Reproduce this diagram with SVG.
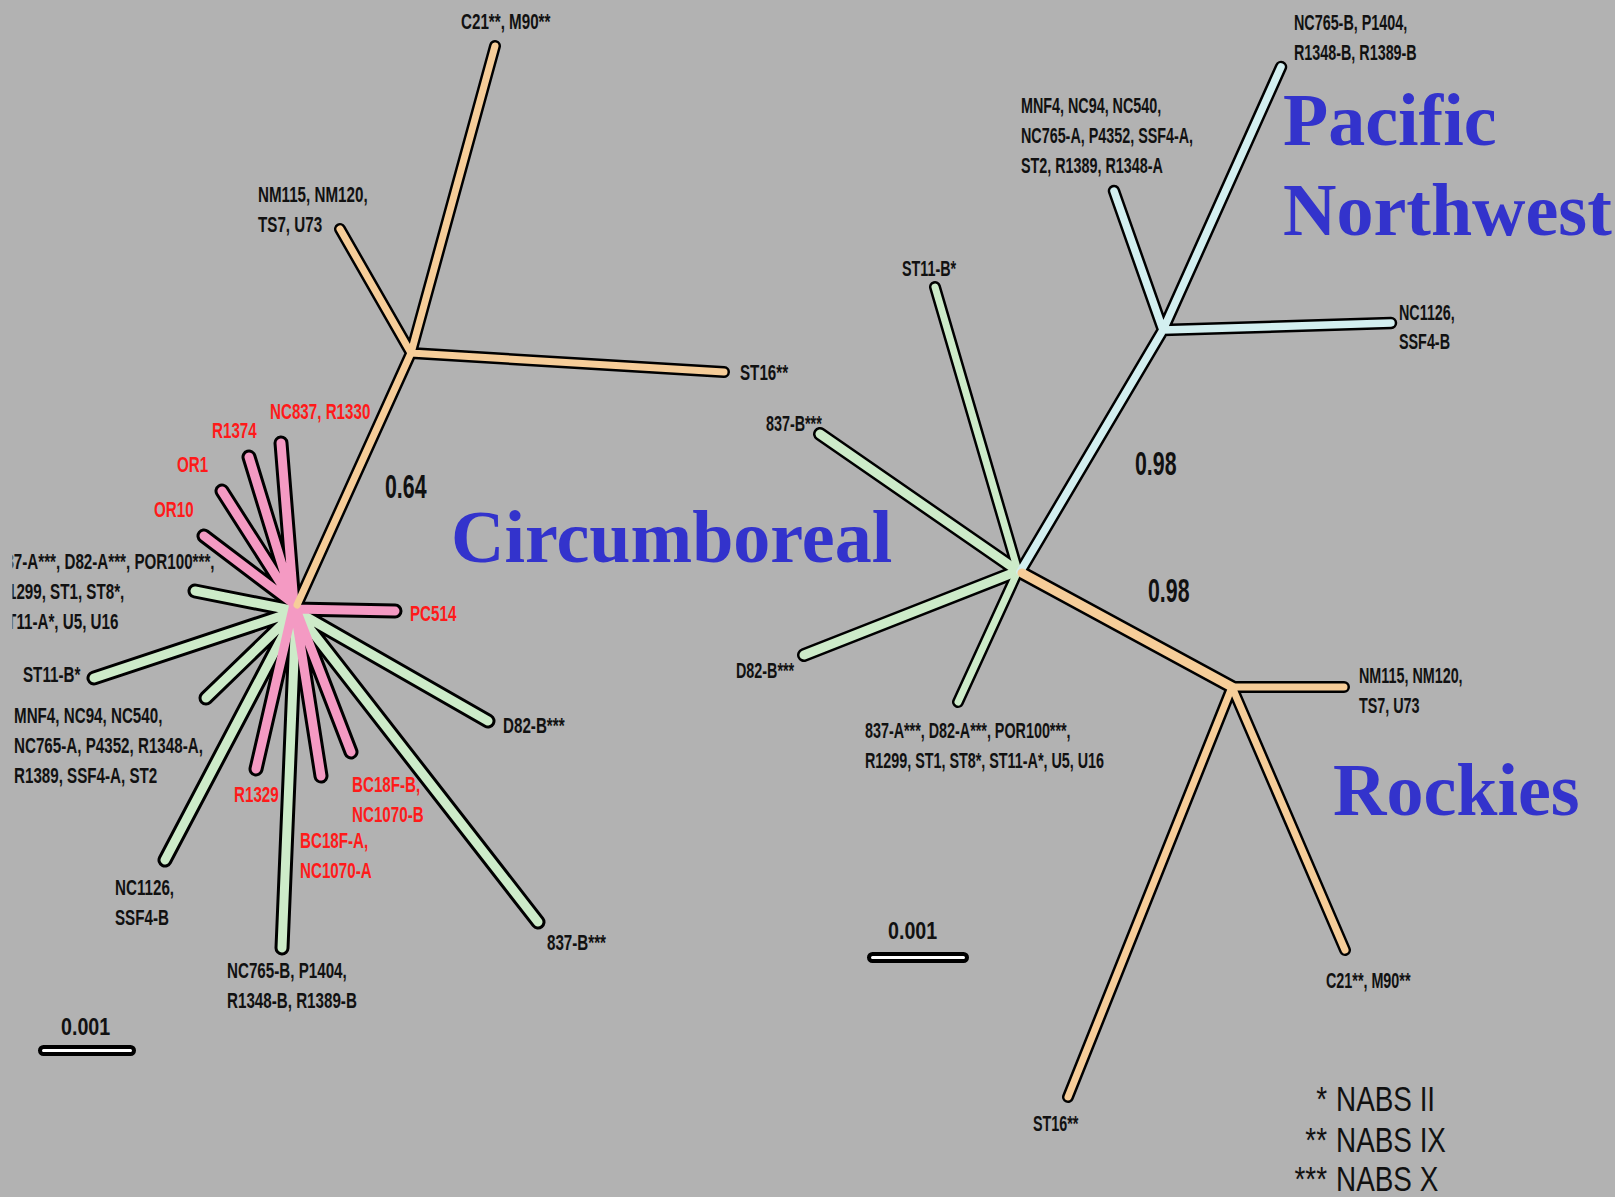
<svg xmlns="http://www.w3.org/2000/svg" xmlns:xlink="http://www.w3.org/1999/xlink" width="1615" height="1197" viewBox="0 0 1615 1197">
<style>
.bg{fill:#b2b2b2}
.ol{fill:none;stroke:#000;stroke-linecap:round;stroke-linejoin:round}
.fl{fill:none;stroke-linecap:round;stroke-linejoin:round}
.lab{font-family:'Liberation Sans',Arial,sans-serif;font-weight:bold;fill:#111}
.l{font-size:18.5px}
.r{font-size:17.5px}
.red{fill:#ff1a1a}
.num{font-family:'Liberation Sans',Arial,sans-serif;font-weight:bold;font-size:26px;fill:#111}
.title{font-family:'Liberation Serif','Times New Roman',serif;font-weight:bold;font-size:74px;fill:#3333cc}
.leg{font-family:'Liberation Sans',Arial,sans-serif;font-size:34px;fill:#111}
.bar{fill:#fff;stroke:#000;stroke-width:4}
</style>
<defs>
<clipPath id="edge" clipPathUnits="userSpaceOnUse"><rect x="12.5" y="530" width="400" height="120"/></clipPath>
<path id="Lg" d="M296 611L195 591M296 611L94 678M296 611L206 698M296 611L165 860M296 611L282 948M296 611L538 922M296 611L488 721"/>
<path id="Lp" d="M294 604L281 443M294 604L249 457M294 604L222 491M294 604L204 536M294 609L395 611M294 604L256 769M294 604L321 776M294 604L351 752"/>
<path id="Lo" d="M297 605L411 353M411 353L495 46M411 353L340 229M411 353L724 372"/>
<path id="Rg1" d="M1018 571L935 287M1018 571L958 702"/>
<path id="Rg2" d="M1018 571L820 434M1018 571L804 655"/>
<path id="Rb" d="M1020 572L1163 330M1163 330L1281 67M1163 330L1114 191M1163 330L1391 323"/>
<path id="Ro1" d="M1022 573L1232 687"/>
<path id="Ro2" d="M1232 687L1344 687M1232 687L1345 950M1232 687L1068 1097"/>
</defs>
<rect class="bg" x="0" y="0" width="1615" height="1197"/>
<g id="connectors">
<use xlink:href="#Lg" class="ol" stroke-width="15"/>
<use xlink:href="#Lp" class="ol" stroke-width="15"/>
<use xlink:href="#Lo" class="ol" stroke-width="12"/>
<use xlink:href="#Rg1" class="ol" stroke-width="12"/>
<use xlink:href="#Rg2" class="ol" stroke-width="14"/>
<use xlink:href="#Rb" class="ol" stroke-width="12.5"/>
<use xlink:href="#Ro1" class="ol" stroke-width="14"/>
<use xlink:href="#Ro2" class="ol" stroke-width="12"/>
<use xlink:href="#Lg" class="fl" stroke="#cdebc9" stroke-width="9"/>
<use xlink:href="#Lp" class="fl" stroke="#f49ac3" stroke-width="9"/>
<use xlink:href="#Lo" class="fl" stroke="#f6cd99" stroke-width="7"/>
<use xlink:href="#Rg1" class="fl" stroke="#cdebc9" stroke-width="7"/>
<use xlink:href="#Rg2" class="fl" stroke="#cdebc9" stroke-width="9"/>
<use xlink:href="#Rb" class="fl" stroke="#d3eff0" stroke-width="7.5"/>
<use xlink:href="#Ro1" class="fl" stroke="#f6cd99" stroke-width="9"/>
<use xlink:href="#Ro2" class="fl" stroke="#f6cd99" stroke-width="7"/>
</g>
<g id="left-tree-labels">
<g id="L-C21" transform="translate(461 29) scale(0.82 1.17)"><text class="lab l">C21**, M90**</text></g>
<g id="L-NM115" transform="translate(258 202) scale(0.82 1.17)"><text class="lab l"><tspan x="0" y="0">NM115, NM120,</tspan><tspan x="0" dy="25.6">TS7, U73</tspan></text></g>
<g id="L-ST16" transform="translate(740 380) scale(0.82 1.17)"><text class="lab l">ST16**</text></g>
<g id="L-NC837" transform="translate(270 419) scale(0.82 1.17)"><text class="lab l red">NC837, R1330</text></g>
<g id="L-R1374" transform="translate(212 438) scale(0.82 1.17)"><text class="lab l red">R1374</text></g>
<g id="L-OR1" transform="translate(177 472) scale(0.82 1.17)"><text class="lab l red">OR1</text></g>
<g id="L-OR10" transform="translate(154 517) scale(0.82 1.17)"><text class="lab l red">OR10</text></g>
<g id="L-PC514" transform="translate(410 621) scale(0.82 1.17)"><text class="lab l red">PC514</text></g>
<g id="L-837A" clip-path="url(#edge)"><g transform="translate(-3 569) scale(0.82 1.17)"><text class="lab l"><tspan x="0" y="0">837-A***, D82-A***, POR100***,</tspan><tspan x="0" dy="25.6">R1299, ST1, ST8*,</tspan><tspan x="0" dy="25.6">ST11-A*, U5, U16</tspan></text></g></g>
<g id="L-ST11B" transform="translate(23 682) scale(0.82 1.17)"><text class="lab l">ST11-B*</text></g>
<g id="L-MNF4" transform="translate(14 723) scale(0.82 1.17)"><text class="lab l"><tspan x="0" y="0">MNF4, NC94, NC540,</tspan><tspan x="0" dy="25.6">NC765-A, P4352, R1348-A,</tspan><tspan x="0" dy="25.6">R1389, SSF4-A, ST2</tspan></text></g>
<g id="L-R1329" transform="translate(234 802) scale(0.82 1.17)"><text class="lab l red">R1329</text></g>
<g id="L-BC18FB" transform="translate(352 792) scale(0.82 1.17)"><text class="lab l red"><tspan x="0" y="0">BC18F-B,</tspan><tspan x="0" dy="25.6">NC1070-B</tspan></text></g>
<g id="L-BC18FA" transform="translate(300 848) scale(0.82 1.17)"><text class="lab l red"><tspan x="0" y="0">BC18F-A,</tspan><tspan x="0" dy="25.6">NC1070-A</tspan></text></g>
<g id="L-D82B" transform="translate(503 733) scale(0.82 1.17)"><text class="lab l">D82-B***</text></g>
<g id="L-NC1126" transform="translate(115 895) scale(0.82 1.17)"><text class="lab l"><tspan x="0" y="0">NC1126,</tspan><tspan x="0" dy="25.6">SSF4-B</tspan></text></g>
<g id="L-NC765B" transform="translate(227 978) scale(0.82 1.17)"><text class="lab l"><tspan x="0" y="0">NC765-B, P1404,</tspan><tspan x="0" dy="25.6">R1348-B, R1389-B</tspan></text></g>
<g id="L-837B" transform="translate(547 950) scale(0.82 1.17)"><text class="lab l">837-B***</text></g>
<g id="L-support" transform="translate(385 498) scale(0.82 1.3)"><text class="num">0.64</text></g>
<g id="L-scale"><rect class="bar" x="40" y="1047" width="94" height="7" rx="3.5"/><g transform="translate(61 1035) scale(0.82 1)"><text class="num" style="font-size:24px">0.001</text></g></g>
<text id="T-circumboreal" class="title" x="451" y="562">Circumboreal</text>
</g>
<g id="right-tree-labels">
<g id="R-NC765B" transform="translate(1294 30) scale(0.82 1.27)"><text class="lab r"><tspan x="0" y="0">NC765-B, P1404,</tspan><tspan x="0" dy="23.5">R1348-B, R1389-B</tspan></text></g>
<g id="R-MNF4" transform="translate(1021 113) scale(0.82 1.27)"><text class="lab r"><tspan x="0" y="0">MNF4, NC94, NC540,</tspan><tspan x="0" dy="23.5">NC765-A, P4352, SSF4-A,</tspan><tspan x="0" dy="23.5">ST2, R1389, R1348-A</tspan></text></g>
<g id="R-ST11B" transform="translate(902 276) scale(0.82 1.27)"><text class="lab r">ST11-B*</text></g>
<g id="R-NC1126" transform="translate(1399 320) scale(0.82 1.27)"><text class="lab r"><tspan x="0" y="0">NC1126,</tspan><tspan x="0" dy="22.5">SSF4-B</tspan></text></g>
<g id="R-837B" transform="translate(766 431) scale(0.82 1.27)"><text class="lab r">837-B***</text></g>
<g id="R-D82B" transform="translate(736 678) scale(0.82 1.27)"><text class="lab r">D82-B***</text></g>
<g id="R-837A" transform="translate(865 738) scale(0.82 1.27)"><text class="lab r"><tspan x="0" y="0">837-A***, D82-A***, POR100***,</tspan><tspan x="0" dy="23.5">R1299, ST1, ST8*, ST11-A*, U5, U16</tspan></text></g>
<g id="R-NM115" transform="translate(1359 683) scale(0.82 1.27)"><text class="lab r"><tspan x="0" y="0">NM115, NM120,</tspan><tspan x="0" dy="23.5">TS7, U73</tspan></text></g>
<g id="R-C21" transform="translate(1326 988) scale(0.82 1.27)"><text class="lab r">C21**, M90**</text></g>
<g id="R-ST16" transform="translate(1033 1131) scale(0.82 1.27)"><text class="lab r">ST16**</text></g>
<g id="R-support1" transform="translate(1135 475) scale(0.82 1.3)"><text class="num">0.98</text></g>
<g id="R-support2" transform="translate(1148 602) scale(0.82 1.3)"><text class="num">0.98</text></g>
<g id="R-scale"><rect class="bar" x="869" y="954" width="98" height="7" rx="3.5"/><g transform="translate(888 939) scale(0.82 1)"><text class="num" style="font-size:24px">0.001</text></g></g>
<text id="T-pacific" class="title"><tspan x="1283" y="145">Pacific</tspan><tspan x="1283" y="235">Northwest</tspan></text>
<text id="T-rockies" class="title" x="1333" y="815">Rockies</text>
</g>
<g id="legend">
<g transform="translate(1327 1111) scale(0.82 1.05)"><text class="leg" text-anchor="end">*</text></g><g transform="translate(1336 1111) scale(0.82 1.05)"><text class="leg">NABS II</text></g>
<g transform="translate(1327 1152) scale(0.82 1.05)"><text class="leg" text-anchor="end">**</text></g><g transform="translate(1336 1152) scale(0.82 1.05)"><text class="leg">NABS IX</text></g>
<g transform="translate(1327 1191) scale(0.82 1.05)"><text class="leg" text-anchor="end">***</text></g><g transform="translate(1336 1191) scale(0.82 1.05)"><text class="leg">NABS X</text></g>
</g>
</svg>
